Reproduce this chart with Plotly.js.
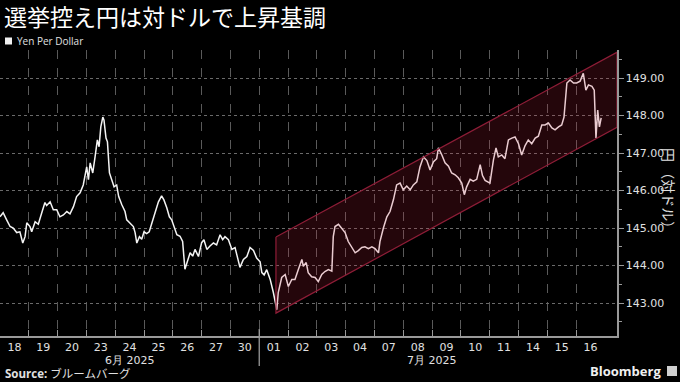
<!DOCTYPE html>
<html>
<head>
<meta charset="utf-8">
<script src="https://cdn.plot.ly/plotly-3.0.1.min.js"></script>
<style>
html,body{margin:0;padding:0;background:#000;}
#chart{width:680px;height:382px;}
</style>
</head>
<body>
<div id="chart"></div>
<script>
// Trading days shown on the x axis (one band per trading day)
const dayLabels = ['18','19','20','23','24','25','26','27','30','01','02','03','04','07','08','09','10','11','14','15','16'];
const months = ['6月 2025', '7月 2025'];
const monthStartIdx = [0, 9];
const monthEndIdx = [9, 21];

// Yen per dollar, intraday (position in trading days from 18 Jun)
const tPos = [0.00,0.11,0.23,0.35,0.46,0.58,0.69,0.79,0.87,0.93,1.04,1.10,1.22,1.33,1.45,1.56,1.62,1.74,1.85,1.97,
  2.08,2.20,2.32,2.43,2.55,2.66,2.78,2.89,3.01,3.07,3.13,3.22,3.30,3.38,3.44,3.50,3.57,3.61,3.68,3.73,
  3.80,3.88,3.96,4.05,4.12,4.23,4.34,4.40,4.51,4.63,4.69,4.75,4.84,4.92,5.00,5.09,5.18,5.27,5.38,5.50,
  5.61,5.69,5.79,5.88,5.96,6.04,6.14,6.25,6.34,6.42,6.50,6.60,6.69,6.77,6.89,7.00,7.08,7.18,7.29,7.41,
  7.52,7.64,7.73,7.81,7.93,8.05,8.16,8.27,8.33,8.45,8.57,8.68,8.80,8.91,9.03,9.09,9.17,9.26,9.38,9.49,
  9.57,9.61,9.66,9.78,9.90,10.01,10.13,10.24,10.36,10.48,10.53,10.63,10.70,10.82,10.94,11.05,11.17,11.28,11.40,11.52,
  11.57,11.63,11.75,11.86,11.98,12.09,12.21,12.33,12.44,12.56,12.67,12.79,12.91,13.02,13.14,13.19,13.31,13.43,13.54,13.66,
  13.77,13.89,14.00,14.12,14.24,14.35,14.47,14.58,14.70,14.82,14.93,15.05,15.16,15.22,15.34,15.45,15.57,15.68,15.80,15.91,
  16.03,16.12,16.20,16.32,16.43,16.55,16.67,16.75,16.84,17.01,17.13,17.22,17.30,17.42,17.53,17.65,17.77,17.88,18.00,18.11,
  18.23,18.34,18.46,18.58,18.69,18.81,18.92,19.04,19.16,19.27,19.39,19.50,19.58,19.68,19.79,19.91,20.02,20.14,20.25,20.34,
  20.43,20.55,20.63,20.69,20.75,20.81,20.87];
const yenPerDollar = [145.30,145.41,145.22,145.04,145.00,144.88,144.90,144.60,144.77,145.14,145.04,144.90,145.17,145.10,145.41,145.68,145.60,145.70,145.49,145.49,
  145.30,145.35,145.44,145.38,145.57,145.84,145.94,146.15,146.63,146.29,146.74,146.47,146.90,147.35,147.17,147.70,147.96,147.88,147.40,147.30,
  146.47,146.29,146.10,146.15,145.84,145.62,145.44,145.22,145.14,145.04,144.88,144.60,144.77,144.70,144.90,144.85,144.90,145.14,145.41,145.70,
  145.86,145.75,145.54,145.30,145.22,145.04,144.82,144.78,144.64,143.90,144.11,144.34,144.25,144.43,144.24,144.61,144.69,144.43,144.52,144.60,
  144.55,144.82,144.69,144.77,144.69,144.43,144.48,144.16,143.95,144.16,144.24,144.48,144.40,144.20,144.10,143.81,143.75,143.89,143.63,143.28,
  142.96,142.82,143.28,143.68,143.76,143.44,143.63,143.63,143.90,144.16,143.98,144.08,143.81,143.70,143.68,143.57,143.76,143.84,143.89,143.85,
  144.77,145.04,145.10,145.00,144.88,144.64,144.50,144.34,144.40,144.48,144.50,144.45,144.50,144.45,144.34,144.64,145.00,145.30,145.44,145.76,
  146.15,146.20,146.02,146.12,146.02,146.15,146.23,146.63,146.90,146.80,146.55,146.77,146.85,147.14,146.95,146.74,146.65,146.47,146.42,146.34,
  146.20,145.89,146.10,146.30,146.25,146.30,146.69,146.40,146.27,146.20,146.82,147.14,146.90,146.95,146.85,147.35,147.40,147.43,147.25,146.95,
  147.20,147.35,147.25,147.40,147.45,147.75,147.75,147.80,147.67,147.62,147.70,147.75,147.96,148.87,148.95,148.87,148.87,148.92,149.13,148.68,
  148.82,148.78,148.68,147.40,148.15,147.70,147.94];

// Rising channel (start/end position and upper/lower bounds)
const channelX = [9.58, 21.42];
const channelUpper = [144.76, 149.69];
const channelLower = [142.73, 147.69];

const yTicks = [143, 144, 145, 146, 147, 148, 149];

const tickCenters = dayLabels.map((d, i) => i + 0.5);
const dayBounds = dayLabels.map((d, i) => i).slice(1);

const W = 617, PH = 286; // plot area size in px
const px = v => v / W;
const py = v => (336 - v) / PH;

const lineTrace = {
  x: tPos, y: yenPerDollar, type: 'scatter', mode: 'lines',
  line: {color: '#f4f4f4', width: 1.5}, hoverinfo: 'skip', showlegend: false
};
const channelTrace = {
  x: [channelX[0], channelX[1], channelX[1], channelX[0], channelX[0]],
  y: [channelUpper[0], channelUpper[1], channelLower[1], channelLower[0], channelUpper[0]],
  type: 'scatter', mode: 'lines', fill: 'toself',
  fillcolor: 'rgba(190,30,60,0.19)',
  line: {color: '#8e1d37', width: 1.2}, hoverinfo: 'skip', showlegend: false
};

const annotations = [
  {text: 'Yen Per Dollar', xref: 'paper', yref: 'paper', x: px(15), y: py(41), xanchor: 'left', yanchor: 'middle',
   showarrow: false, font: {family: 'Open Sans, sans-serif', size: 10, color: '#e0e0e0'}},
  {text: '<b>Source:</b> ブルームバーグ', xref: 'paper', yref: 'paper', x: px(3), y: py(373), xanchor: 'left', yanchor: 'middle',
   showarrow: false, font: {family: 'Open Sans, Noto Sans CJK JP, sans-serif', size: 11.5, color: '#e0e0e0'}},
  {text: '<b>Bloomberg</b>', xref: 'paper', yref: 'paper', x: px(663), y: py(371), xanchor: 'right', yanchor: 'middle',
   showarrow: false, font: {family: 'Open Sans, sans-serif', size: 13, color: '#f0f0f0'}},
  {text: '円 （対ドル）', xref: 'paper', yref: 'paper', x: px(669), y: py(191), xanchor: 'center', yanchor: 'middle',
   textangle: 90, showarrow: false, font: {family: 'Noto Sans CJK JP, sans-serif', size: 14, color: '#e0e0e0'}}
];
months.forEach((m, i) => {
  annotations.push({text: m, xref: 'x', yref: 'paper', x: (monthStartIdx[i] + monthEndIdx[i]) / 2, y: py(360),
    xanchor: 'center', yanchor: 'middle', showarrow: false,
    font: {family: 'DejaVu Sans, sans-serif', size: 11, color: '#e0e0e0'}});
});

const shapes = [
  {type: 'line', xref: 'x', yref: 'paper', x0: monthStartIdx[1], x1: monthStartIdx[1], y0: py(366), y1: py(329),
   line: {color: '#999', width: 1.3}},
  {type: 'rect', xref: 'paper', yref: 'paper', x0: px(5), x1: px(12), y0: py(44.5), y1: py(37.5),
   fillcolor: '#f0f0f0', line: {width: 0}},
  {type: 'rect', xref: 'paper', yref: 'paper', x0: px(667), x1: px(677), y0: py(376), y1: py(366),
   fillcolor: '#cfcfcf', line: {width: 0}}
];

const layout = {
  width: 680, height: 382,
  margin: {l: 0, r: 63, t: 50, b: 46, pad: 0},
  paper_bgcolor: '#000', plot_bgcolor: '#000',
  title: {text: '選挙控え円は対ドルで上昇基調', xref: 'container', yref: 'container', x: 4/680, y: 1 - 18/382,
          xanchor: 'left', yanchor: 'middle',
          font: {family: 'Noto Sans CJK JP, sans-serif', size: 23, color: '#ffffff'}},
  showlegend: false,
  xaxis: {
    range: [0, 21.42], tickmode: 'array', tickvals: tickCenters, ticktext: dayLabels,
    ticks: '', showgrid: false, zeroline: false, showline: true, linecolor: '#999', linewidth: 1.5,
    tickfont: {family: 'DejaVu Sans, sans-serif', size: 11, color: '#e0e0e0'},
    minor: {tickmode: 'array', tickvals: dayBounds, ticks: 'inside', ticklen: 6, tickcolor: '#999', tickwidth: 1,
            showgrid: true, gridcolor: '#5a5a5a', griddash: 'dash', gridwidth: 1},
    fixedrange: true
  },
  yaxis: {
    side: 'right', range: [142.12, 149.75], tickmode: 'array', tickvals: yTicks, tickformat: '.2f',
    ticks: 'outside', ticklen: 5, tickcolor: '#999', showline: true, linecolor: '#999', linewidth: 1.5,
    showgrid: true, gridcolor: '#6a6a6a', griddash: 'dot', gridwidth: 1, zeroline: false,
    tickfont: {family: 'DejaVu Sans, sans-serif', size: 11, color: '#e0e0e0'},
    minor: {dtick: 0.5, tick0: 142.5, ticks: 'outside', ticklen: 3, tickcolor: '#999', showgrid: false},
    fixedrange: true
  },
  annotations: annotations,
  shapes: shapes
};

Plotly.newPlot('chart', [lineTrace, channelTrace], layout, {displayModeBar: false, staticPlot: true});
</script>
</body>
</html>
